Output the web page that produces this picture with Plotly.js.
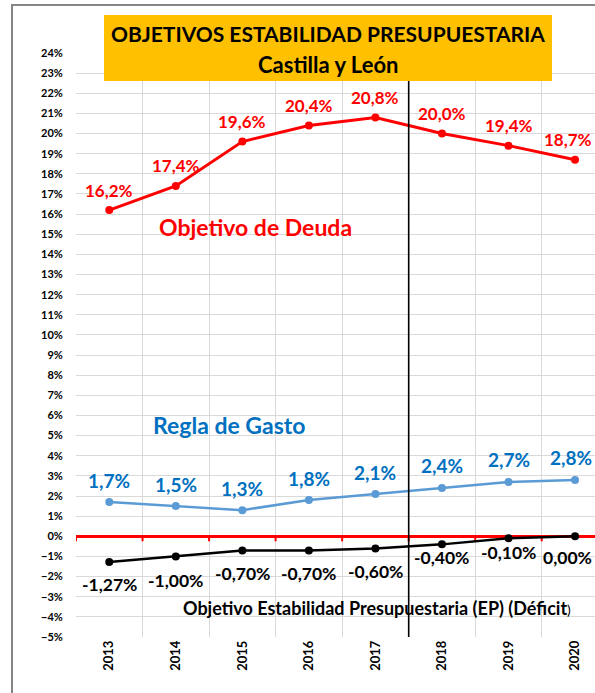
<!DOCTYPE html>
<html>
<head>
<meta charset="utf-8">
<script src="https://cdn.plot.ly/plotly-3.0.1.min.js"></script>
<style>html,body{margin:0;padding:0;background:#fff;}</style>
</head>
<body>
<div id="chart" style="width:595px;height:693px;"></div>
<script>
// ---- data ----
const years = ['2013','2014','2015','2016','2017','2018','2019','2020'];
const deuda = [16.2, 17.4, 19.6, 20.4, 20.8, 20.0, 19.4, 18.7];
const gasto = [1.7, 1.5, 1.3, 1.8, 2.1, 2.4, 2.7, 2.8];
const deficit = [-1.27, -1.00, -0.70, -0.70, -0.60, -0.40, -0.10, 0.00];
const titleLine1 = 'OBJETIVOS ESTABILIDAD PRESUPUESTARIA';
const titleLine2 = 'Castilla y León';
const nameDeuda = 'Objetivo de Deuda';
const nameGasto = 'Regla de Gasto';
const nameDeficit = 'Objetivo Estabilidad Presupuestaria (EP) (Déficit';

// ---- label placement (pixels, style only) ----
const deudaShift = 20, gastoShift = 22;
const deficitShift = [-23, -24, -23, -23, -23, -13, -14, -21];

const W = 595, H = 693;
const M = {l: 76, r: 0, t: 53, b: 56};
const PW = W - M.l - M.r, PH = H - M.t - M.b;
const px = x => (x - M.l) / PW;
const py = y => (H - M.b - y) / PH;

const FONT = 'Lato, "Open Sans", sans-serif';
const RED = '#FF0000', BLUE_LINE = '#5B9BD5', BLUE_TXT = '#0070C0';

const fmt = (v, d) => v.toFixed(d).replace('.', ',') + '%';

const traces = [
  {x: years, y: deuda, type: 'scatter', mode: 'lines+markers',
   line: {color: RED, width: 3}, marker: {color: RED, size: 8}, hoverinfo: 'skip'},
  {x: years, y: gasto, type: 'scatter', mode: 'lines+markers',
   line: {color: BLUE_LINE, width: 2.5}, marker: {color: BLUE_LINE, size: 8}, hoverinfo: 'skip'},
  {x: years, y: deficit, type: 'scatter', mode: 'lines+markers',
   line: {color: '#000000', width: 2.5}, marker: {color: '#000000', size: 8}, hoverinfo: 'skip'}
];

const annotations = [];
const lab = (size, color) => ({family: FONT, size: size, color: color, weight: 'bold'});
const last = years.length - 1;
// keep the last column's labels inside the right edge
const edge = i => (i === last ? {xanchor: 'right', xshift: 19} : {xanchor: 'center'});
years.forEach((yr, i) => {
  annotations.push(Object.assign({x: i, y: deuda[i], xref: 'x', yref: 'y', text: fmt(deuda[i], 1),
    showarrow: false, yshift: deudaShift, yanchor: 'middle', font: lab(17, RED)}, edge(i)));
  annotations.push(Object.assign({x: i, y: gasto[i], xref: 'x', yref: 'y', text: fmt(gasto[i], 1),
    showarrow: false, yshift: gastoShift, yanchor: 'middle', font: lab(19, BLUE_TXT)}, edge(i)));
  annotations.push(Object.assign({x: i, y: deficit[i], xref: 'x', yref: 'y', text: fmt(deficit[i], 2),
    showarrow: false, yshift: deficitShift[i], yanchor: 'middle', font: lab(17.5, '#000000')}, edge(i)));
});
annotations.push({xref: 'paper', yref: 'paper', x: px(255), y: py(227), text: nameDeuda,
  showarrow: false, xanchor: 'center', yanchor: 'middle', font: lab(23, RED)});
annotations.push({xref: 'paper', yref: 'paper', x: px(229.5), y: py(425), text: nameGasto,
  showarrow: false, xanchor: 'center', yanchor: 'middle', font: lab(23, BLUE_TXT)});
annotations.push({xref: 'paper', yref: 'paper', x: px(376.5), y: py(608),
  text: nameDeficit + '<span style="font-weight:normal;font-size:14px">)</span>',
  showarrow: false, xanchor: 'center', yanchor: 'middle', font: lab(18, '#000000')});
annotations.push({xref: 'paper', yref: 'paper', x: px(328), y: py(33), text: titleLine1,
  showarrow: false, xanchor: 'center', yanchor: 'middle', font: lab(21, '#000000')});
annotations.push({xref: 'paper', yref: 'paper', x: px(328), y: py(64), text: titleLine2,
  showarrow: false, xanchor: 'center', yanchor: 'middle', font: lab(22, '#000000')});

const shapes = [];
// small red tick marks under the zero line at category boundaries
for (let b = -0.5; b < years.length; b += 1) {
  shapes.push({type: 'line', xref: 'x', yref: 'y', ysizemode: 'pixel', yanchor: 0,
    x0: b, x1: b, y0: 0, y1: -5, line: {color: RED, width: 2}, layer: 'between'});
}
// vertical divider between 2017 and 2018
shapes.push({type: 'line', xref: 'x', yref: 'paper', x0: 4.5, x1: 4.5, y0: 0, y1: 1,
  line: {color: '#000000', width: 1.6}, layer: 'above'});
// title box
shapes.push({type: 'rect', xref: 'paper', yref: 'paper', x0: px(104), x1: px(552), y0: py(81), y1: py(15),
  fillcolor: '#FFC000', line: {width: 0}, layer: 'above'});
// frame
shapes.push({type: 'path', xref: 'paper', yref: 'paper',
  path: `M ${px(12)} ${py(H + 2)} L ${px(12)} ${py(5)} L ${px(W + 2)} ${py(5)}`,
  line: {color: '#868686', width: 2}, layer: 'above'});

const layout = {
  width: W, height: H,
  margin: M,
  paper_bgcolor: '#ffffff', plot_bgcolor: '#ffffff',
  showlegend: false,
  xaxis: {
    type: 'category', range: [-0.5, 7.3], tickson: 'boundaries',
    showgrid: true, gridcolor: '#D9D9D9', gridwidth: 1,
    zeroline: false, showline: false,
    ticks: 'outside', ticklen: 10, tickcolor: 'rgba(0,0,0,0)',
    tickangle: -90, tickfont: {family: FONT, size: 13, color: '#000000', weight: 'bold'}
  },
  yaxis: {
    range: [-5, 24], dtick: 1, tick0: 0, ticksuffix: '%',
    showgrid: true, gridcolor: '#D9D9D9', gridwidth: 1,
    zeroline: true, zerolinecolor: RED, zerolinewidth: 2.5, showline: false,
    ticks: 'outside', ticklen: 10, tickcolor: 'rgba(0,0,0,0)',
    tickfont: {family: FONT, size: 11, color: '#000000', weight: 'bold'}
  },
  shapes: shapes,
  annotations: annotations
};

Plotly.newPlot('chart', traces, layout, {displayModeBar: false, staticPlot: true});
</script>
</body>
</html>
